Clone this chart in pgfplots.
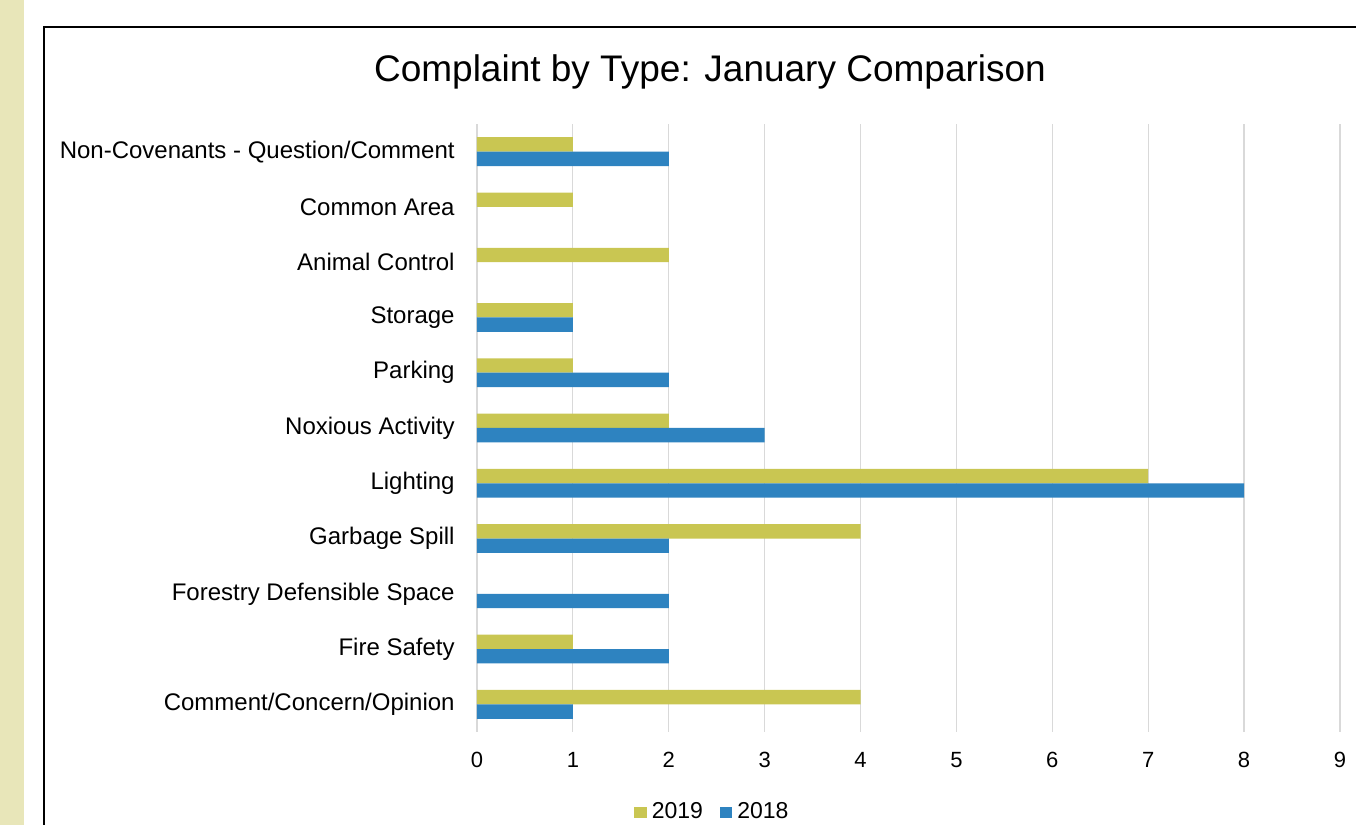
\documentclass[border=0pt]{standalone}
\usepackage{pgfplots}
\pgfplotsset{compat=1.18}
\usepackage{fontspec}
\setmainfont{Liberation Sans}
\definecolor{gold}{HTML}{C9C652}
\definecolor{steel}{HTML}{2E83C0}
\definecolor{beige}{HTML}{E8E6B9}
\definecolor{gridgray}{HTML}{D9D9D9}
\begin{document}
\begin{tikzpicture}
\path[use as bounding box] (0,0) rectangle (678pt,412.5pt);
\fill[beige] (0,0) rectangle (12pt,412.5pt);
\draw[line width=1pt] (21.75pt,-5pt) -- (21.75pt,399pt) -- (690pt,399pt);
\node[font=\fontsize{18.5}{22}\selectfont] at (355pt,376.5pt) {Complaint by Type: January Comparison};
\begin{axis}[
    at={(238.5pt,46.5pt)}, anchor=south west,
    scale only axis,
    width=431.5pt, height=304pt,
    xbar,
    bar width=7.2pt,
    xmin=0, xmax=9,
    ymin=-0.5, ymax=10.5,
    xtick={0,...,9},
    ytick={0,...,10},
    yticklabels={Comment/Concern/Opinion, Fire Safety, Forestry Defensible Space, Garbage Spill, Lighting, Noxious Activity, Parking\ , Storage, Animal Control, Common Area, Non-Covenants - Question/Comment},
    xmajorgrids,
    grid style={gridgray, line width=0.6pt},
    axis line style={draw=none},
    major tick length=0pt,
    tick style={draw=none},
    /pgf/number format/assume math mode=true,
    xticklabel style={font=\fontsize{11}{13}\selectfont, inner sep=0pt, yshift=-10pt},
    yticklabel style={font=\fontsize{12}{14}\selectfont, inner sep=0pt, xshift=-11pt},
    legend style={at={(rel axis cs:0.274,-0.1316)}, anchor=center, draw=none, fill=none,
        legend columns=-1, font=\fontsize{11.5}{13}\selectfont, inner sep=0pt,
        /tikz/every odd column/.append style={column sep=0.5pt},
        /tikz/every even column/.append style={column sep=6.5pt}},
    legend image code/.code={\fill[#1] (0pt,-2.75pt) rectangle (6.2pt,2.75pt);},
]
\addplot[fill=gold, draw=none, bar shift=3.6pt] coordinates {
    (4,0) (1,1) (4,3) (7,4) (2,5) (1,6) (1,7) (2,8) (1,9) (1,10)
};
\addplot[fill=steel, draw=none, bar shift=-3.6pt] coordinates {
    (1,0) (2,1) (2,2) (2,3) (8,4) (3,5) (2,6) (1,7) (2,10)
};
\legend{2019, 2018}
\end{axis}
\end{tikzpicture}
\end{document}
